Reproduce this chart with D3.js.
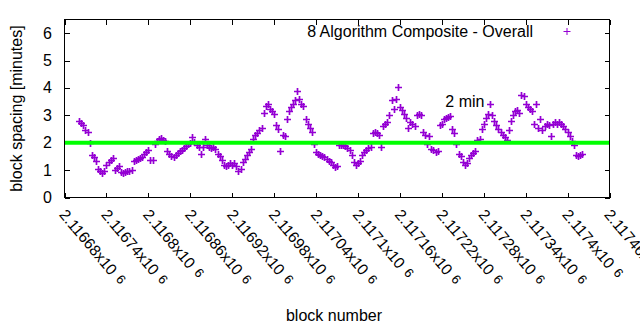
<!DOCTYPE html>
<html>
<head>
<meta charset="UTF-8">
<title>Block spacing</title>
<script src="https://d3js.org/d3.v7.min.js"></script>
<style>
    body { margin: 0; background: #fff; }
    text { font-family: "Liberation Sans", Arial, sans-serif; font-size: 16px; fill: #000; }
</style>
</head>
<body>
<svg id="svg" width="640" height="330"></svg>
<script>
    // block heights are stored as offsets from the first tick
    var firstBlock = 2116680;
    var blockOffset = [21, 24, 27, 30, 33, 36, 39, 42, 45, 48, 51, 54, 57, 60, 63, 66, 69, 72, 75, 78,
        81, 84, 87, 90, 93, 96, 99, 102, 105, 108, 111, 114, 117, 120, 123, 126, 129, 132, 135, 138,
        141, 144, 147, 150, 153, 156, 159, 162, 165, 168, 171, 174, 177, 180, 183, 186, 189, 192, 195, 198,
        201, 204, 207, 210, 213, 216, 219, 222, 225, 228, 231, 234, 237, 240, 243, 246, 249, 252, 255, 258,
        261, 264, 267, 270, 273, 276, 279, 282, 285, 288, 291, 294, 297, 300, 303, 306, 309, 312, 315, 318,
        321, 324, 327, 330, 333, 336, 339, 342, 345, 348, 351, 354, 357, 360, 363, 366, 369, 372, 375, 378,
        381, 384, 387, 390, 393, 396, 399, 402, 405, 408, 411, 414, 417, 420, 423, 426, 429, 432, 435, 438,
        441, 444, 447, 450, 453, 456, 459, 462, 465, 468, 471, 474, 477, 480, 483, 486, 489, 492, 495, 498,
        501, 504, 507, 510, 513, 516, 519, 522, 525, 528, 531, 534, 537, 540, 543, 546, 549, 552, 555, 558,
        561, 564, 567, 570, 573, 576, 579, 582, 585, 588, 591, 594, 597, 600, 603, 606, 609, 612, 615, 618,
        621, 624, 627, 630, 633, 636, 639, 642, 645, 648, 651, 654, 657, 660, 663, 666, 669, 672, 675, 678,
        681, 684, 687, 690, 693, 696, 699, 702, 705, 708, 711, 714, 717, 720, 723, 726, 729, 732, 735, 738,
        741];
    // composite spacing in minutes
    var spacing = [2.78, 2.72, 2.64, 2.45, 2.38, 2.0, 1.55, 1.48, 1.35, 1.05, 0.95, 0.9, 0.95, 1.2, 1.28, 1.36, 1.45, 1.0, 1.08, 1.15,
        0.92, 0.9, 0.93, 0.95, 0.97, 1.0, 1.33, 1.38, 1.42, 1.45, 1.48, 1.6, 1.66, 1.72, 1.38, 1.37, 1.95, 2.05, 2.15, 2.18,
        2.1, 2.05, 1.7, 1.6, 1.5, 1.48, 1.55, 1.62, 1.7, 1.75, 1.82, 1.88, 1.95, 2.0, 2.2, 2.02, 1.9, 1.85, 1.58, 1.85,
        2.15, 1.9, 1.85, 1.8, 1.85, 1.78, 1.6, 1.5, 1.38, 1.2, 1.15, 1.2, 1.25, 1.2, 1.25, 1.15, 0.95, 1.05, 1.3, 1.42,
        1.55, 1.65, 1.78, 2.15, 2.3, 2.35, 2.45, 2.55, 3.1, 3.35, 3.4, 3.25, 3.15, 3.05, 2.65, 2.5, 1.7, 2.3, 2.25, 2.85,
        3.15, 3.3, 3.4, 3.55, 3.9, 3.6, 3.4, 3.35, 2.85, 2.7, 2.55, 2.4, 1.95, 1.65, 1.6, 1.55, 1.52, 1.48, 1.42, 1.35,
        1.28, 1.2, 1.12, 1.15, 1.9, 1.92, 1.9, 1.88, 1.8, 1.72, 1.55, 1.3, 1.2, 1.25, 1.35, 1.55, 1.65, 1.75, 1.8, 1.85,
        2.35, 2.4, 2.35, 2.3, 1.85, 2.6, 2.7, 2.75, 3.0, 3.55, 3.25, 3.6, 4.05, 3.3, 3.2, 3.05, 2.9, 2.55, 2.75, 2.7,
        2.6, 3.0, 3.05, 3.0, 2.4, 2.3, 1.95, 2.25, 1.78, 1.72, 1.65, 1.7, 2.65, 2.7, 2.85, 2.9, 2.95, 2.98, 2.5, 2.35,
        1.95, 1.6, 1.5, 1.3, 1.2, 1.25, 1.45, 1.55, 1.62, 1.7, 2.1, 2.15, 2.5, 2.7, 2.9, 3.05, 3.4, 3.0, 2.8, 2.65,
        2.5, 2.4, 2.3, 2.2, 2.1, 2.45, 2.8, 3.0, 3.15, 3.2, 3.1, 3.75, 3.7, 3.4, 3.3, 3.25, 3.15, 2.7, 3.4, 2.55,
        2.85, 2.45, 2.6, 2.7, 2.65, 2.25, 2.7, 2.75, 2.7, 2.75, 2.7, 2.6, 2.5, 2.4, 2.25, 2.05, 1.9, 1.55, 1.5, 1.55,
        1.6];

    var xTicks = [2116680, 2116740, 2116800, 2116860, 2116920, 2116980, 2117040, 2117100, 2117160, 2117220, 2117280, 2117340, 2117400, 2117460];
    var xTickLabels = ["2.11668", "2.11674", "2.1168", "2.11686", "2.11692", "2.11698", "2.11704", "2.1171", "2.11716", "2.11722", "2.11728", "2.11734", "2.1174", "2.11746"];
    var yTicks = [0, 1, 2, 3, 4, 5, 6];
    var target = 2;          // 2 minute reference line
    var targetLabelAt = [2117225, 3.29];

    var svg = d3.select("#svg");
    var plotL = 64.5, plotR = 609.5, plotT = 19.5, plotB = 197.5;
    var x = d3.scaleLinear().domain([2116680, 2117460]).range([plotL, plotR]);
    var y = d3.scaleLinear().domain([0, 6.5]).range([plotB, plotT]);
    var purple = "#9400d3";

    svg.append("rect").attr("width", 640).attr("height", 330).attr("fill", "#fff");

    // inward ticks on all four sides
    function strip(g) {
        g.select(".domain").remove();
        g.selectAll(".tick line").attr("stroke", "#000").attr("shape-rendering", "crispEdges");
        g.selectAll(".tick text").remove();
    }
    svg.append("g").attr("transform", "translate(0," + plotB + ")")
        .call(d3.axisBottom(x).tickValues(xTicks).tickSize(-5)).call(strip);
    svg.append("g").attr("transform", "translate(0," + plotT + ")")
        .call(d3.axisTop(x).tickValues(xTicks).tickSize(-5)).call(strip);
    svg.append("g").attr("transform", "translate(" + plotL + ",0)")
        .call(d3.axisLeft(y).tickValues(yTicks).tickSize(-5)).call(strip);
    svg.append("g").attr("transform", "translate(" + plotR + ",0)")
        .call(d3.axisRight(y).tickValues(yTicks).tickSize(-5)).call(strip);

    // y tick labels
    yTicks.forEach(function (v) {
        svg.append("text").attr("x", 52).attr("y", y(v)).attr("text-anchor", "end")
            .attr("dominant-baseline", "central").text(v);
    });

    // rotated x tick labels, gnuplot style mantissa x10^6
    xTicks.forEach(function (v, i) {
        var t = svg.append("text")
            .attr("transform", "translate(" + (x(v) - 6) + ",215) rotate(50)")
            .style("font-size", "15.5px");
        t.append("tspan").text(xTickLabels[i] + "x10");
        t.append("tspan").attr("dx", 6).attr("dy", -2).style("font-size", "13px").text("6");
    });

    // data points as plus markers
    var pts = blockOffset.map(function (b, i) { return [firstBlock + b, spacing[i]]; });
    svg.append("g").selectAll("path").data(pts).enter().append("path")
        .attr("d", function (d) {
            var px = Math.round(x(d[0])) + 0.5, py = Math.round(y(d[1])) + 0.5;
            return "M" + (px - 3.5) + "," + py + "h7M" + px + "," + (py - 3.5) + "v7";
        })
        .attr("stroke", purple).attr("stroke-width", 1.7).attr("fill", "none");

    // 2 minute target line
    svg.append("line").attr("x1", plotL).attr("x2", plotR).attr("y1", y(target)).attr("y2", y(target))
        .attr("stroke", "#00ff00").attr("stroke-width", 4);
    svg.append("text").attr("x", x(targetLabelAt[0])).attr("y", y(targetLabelAt[1])).text("2 min");

    // frame
    svg.append("rect").attr("x", plotL).attr("y", plotT).attr("width", plotR - plotL).attr("height", plotB - plotT)
        .attr("fill", "none").attr("stroke", "#000").attr("shape-rendering", "crispEdges");

    // key
    svg.append("text").attr("x", 533).attr("y", 36.5).attr("text-anchor", "end").text("8 Algorithm Composite - Overall");
    svg.append("path").attr("d", "M563.5,31.5h7M567,28v7").attr("stroke", purple).attr("stroke-width", 1);

    // axis titles
    svg.append("text").attr("transform", "translate(22,108.5) rotate(-90)").attr("text-anchor", "middle").text("block spacing [minutes]");
    svg.append("text").attr("x", 334).attr("y", 321).attr("text-anchor", "middle").text("block number");
</script>
</body>
</html>
